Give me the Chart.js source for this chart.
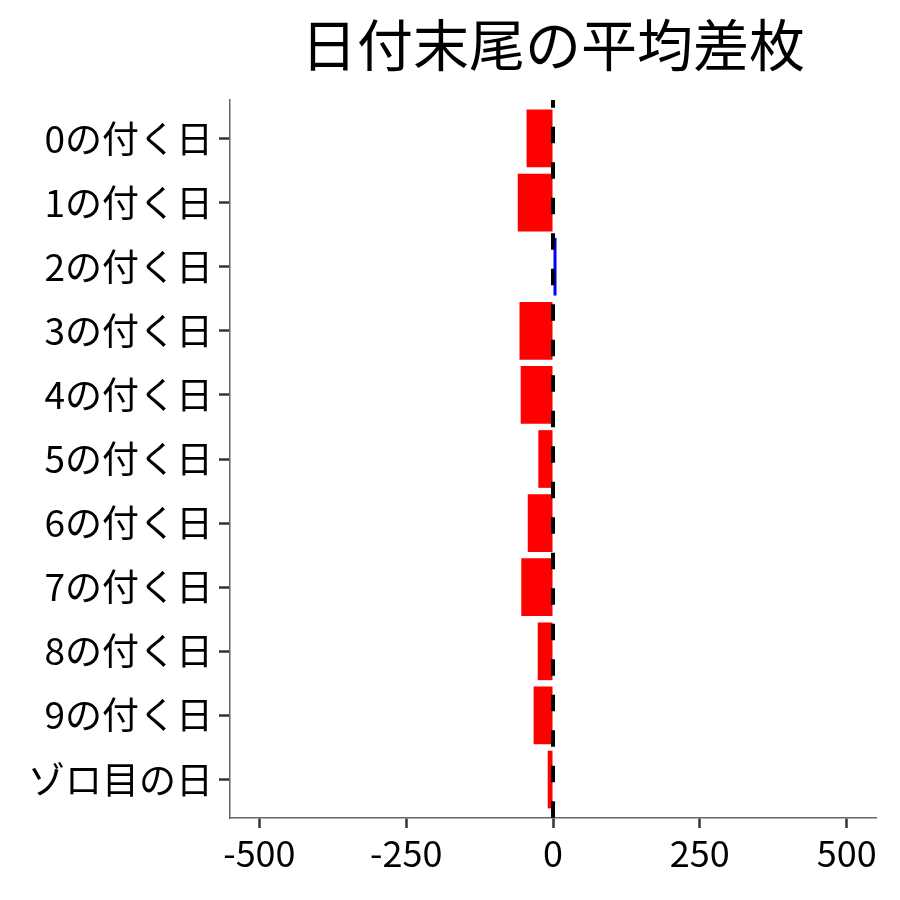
<!DOCTYPE html>
<html lang="ja">
<head>
    <meta charset="UTF-8">
    <title>日付末尾の平均差枚</title>
    <script src="https://cdn.jsdelivr.net/npm/chart.js"></script>
    <style>
        body { margin: 0; background: #fff; }
        .chart-box { width: 900px; height: 900px; }
    </style>
</head>
<body>
    <div class="chart-box"><canvas id="chart"></canvas></div>

<script>
    // 日付末尾ごとの平均差枚
    const dayLabels = ["0の付く日", "1の付く日", "2の付く日", "3の付く日", "4の付く日",
                       "5の付く日", "6の付く日", "7の付く日", "8の付く日", "9の付く日", "ゾロ目の日"];
    const avgDiff = [-45, -60, 6, -57, -55, -25, -43, -54, -26, -33, -9];
    const xTicks = [-500, -250, 0, 250, 500];

    Chart.defaults.font.family = "'Noto Sans CJK JP', 'Noto Sans', sans-serif";
    Chart.defaults.color = "#000";

    // x = 0 の破線
    const zeroLine = {
        id: "zeroLine",
        afterDatasetsDraw(chart) {
            const ctx = chart.ctx;
            const area = chart.chartArea;
            const x = chart.scales.x.getPixelForValue(0);
            ctx.save();
            ctx.strokeStyle = "#000";
            ctx.lineWidth = 4;
            ctx.setLineDash([16.5, 19]);
            ctx.lineDashOffset = 8.8;
            ctx.beginPath();
            ctx.moveTo(x, area.top);
            ctx.lineTo(x, area.bottom);
            ctx.stroke();
            ctx.restore();
        }
    };

    new Chart(document.getElementById("chart"), {
        type: "bar",
        data: {
            datasets: [{
                data: avgDiff.map((v, i) => ({ x: v, y: i })),
                backgroundColor: avgDiff.map(v => v >= 0 ? "#0000ff" : "#ff0000"),
                borderWidth: 0,
                barPercentage: 0.9,
                categoryPercentage: 1
            }]
        },
        options: {
            indexAxis: "y",
            responsive: true,
            maintainAspectRatio: false,
            animation: false,
            layout: { padding: { left: 0, right: 24, top: 0, bottom: 0 } },
            plugins: {
                legend: { display: false },
                tooltip: { enabled: false },
                title: {
                    display: true,
                    text: "日付末尾の平均差枚",
                    fullSize: false,
                    color: "#000",
                    font: { size: 56, weight: "normal" },
                    padding: { top: 11, bottom: 21.8 }
                }
            },
            scales: {
                x: {
                    type: "linear",
                    min: -550,
                    max: 550,
                    afterBuildTicks: s => { s.ticks = xTicks.map(v => ({ value: v })); },
                    afterFit: s => { s.height = 82; },
                    grid: { display: true, drawOnChartArea: false, drawTicks: true,
                            tickLength: 10, tickColor: "#333", tickWidth: 2.5 },
                    border: { display: true, color: "#666", width: 1.5 },
                    ticks: { color: "#000", font: { size: 36 }, padding: 4, maxRotation: 0 }
                },
                y: {
                    type: "linear",
                    reverse: true,
                    offset: false,
                    min: -0.6,
                    max: 10.6,
                    afterBuildTicks: s => { s.ticks = dayLabels.map((_, i) => ({ value: i })); },
                    afterFit: s => { s.width = 230; },
                    grid: { display: true, offset: false, drawOnChartArea: false, drawTicks: true,
                            tickLength: 11, tickColor: "#333", tickWidth: 2.5 },
                    border: { display: true, color: "#666", width: 1.5 },
                    ticks: {
                        color: "#000",
                        font: { size: 37 },
                        padding: 6,
                        callback: v => dayLabels[v]
                    }
                }
            }
        },
        plugins: [zeroLine]
    });
</script>
</body>
</html>
